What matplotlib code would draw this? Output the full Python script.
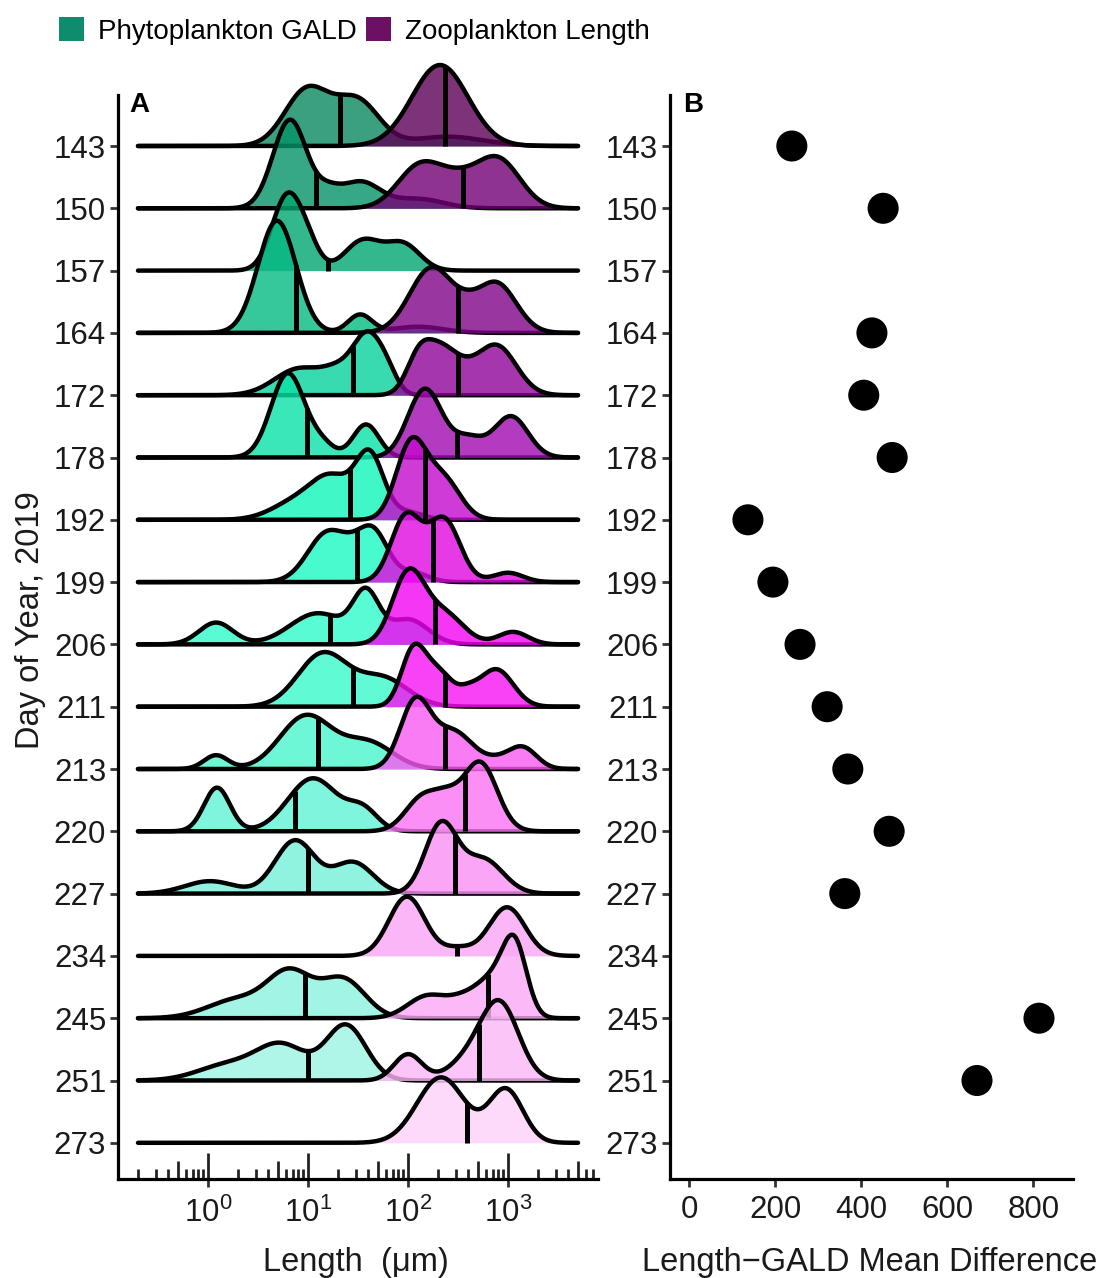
import numpy as np
import matplotlib
matplotlib.use("Agg")
import matplotlib.pyplot as plt
import matplotlib.colors as mcolors
import matplotlib.transforms as mtransforms
from matplotlib.patches import Patch
from matplotlib.ticker import FixedLocator, NullLocator, LogFormatterSciNotation

plt.rcParams['font.family'] = ['Liberation Sans', 'DejaVu Sans']
plt.rcParams['mathtext.fontset'] = 'custom'
plt.rcParams['mathtext.rm'] = 'Liberation Sans'
plt.rcParams['mathtext.it'] = 'Liberation Sans:italic'

days = [143, 150, 157, 164, 172, 178, 192, 199, 206, 211, 213, 220, 227, 234, 245, 251, 273]

# ridge shapes: (log10 length in um, height in rows, width in decades)
phyto_peaks = [
    [(0.99, 0.9, 0.22), (1.49, 0.72, 0.22), (2.4, 0.15, 0.35)],
    [(0.82, 1.42, 0.17), (1.2, 0.2, 0.12), (1.52, 0.42, 0.2), (2.1, 0.15, 0.25)],
    [(0.79, 1.18, 0.15), (1.0, 0.3, 0.12), (1.55, 0.48, 0.18), (1.95, 0.42, 0.17)],
    [(0.69, 1.8, 0.19), (1.52, 0.29, 0.12), (2.1, 0.1, 0.25)],
    [(0.92, 0.43, 0.25), (1.3, 0.28, 0.15), (1.6, 0.95, 0.15), (1.8, 0.2, 0.1)],
    [(0.8, 1.35, 0.17), (1.15, 0.18, 0.12), (1.58, 0.53, 0.13)],
    [(0.9, 0.3, 0.25), (1.25, 0.6, 0.2), (1.62, 1.0, 0.14), (2.0, 0.12, 0.15)],
    [(1.2, 0.8, 0.2), (1.43, 0.12, 0.12), (1.65, 0.8, 0.15), (2.05, 0.15, 0.15)],
    [(0.08, 0.35, 0.17), (1.1, 0.5, 0.28), (1.58, 0.75, 0.13), (2.0, 0.4, 0.2)],
    [(1.15, 0.85, 0.25), (1.75, 0.45, 0.25)],
    [(0.08, 0.22, 0.12), (0.98, 0.85, 0.26), (1.6, 0.42, 0.25)],
    [(0.09, 0.7, 0.13), (1.05, 0.85, 0.25), (1.55, 0.32, 0.15)],
    [(0.02, 0.2, 0.25), (0.87, 0.85, 0.2), (1.45, 0.5, 0.2)],
    [],
    [(0.3, 0.3, 0.3), (0.82, 0.7, 0.22), (1.35, 0.62, 0.22)],
    [(0.2, 0.25, 0.3), (0.74, 0.55, 0.25), (1.38, 0.88, 0.2)],
    [],
]
zoo_peaks = [
    [(2.32, 1.3, 0.28)],
    [(2.12, 0.68, 0.22), (2.5, 0.35, 0.2), (2.9, 0.78, 0.22)],
    [],
    [(2.24, 1.05, 0.22), (2.58, 0.12, 0.12), (2.88, 0.8, 0.2)],
    [(2.1, 0.45, 0.12), (2.33, 0.75, 0.18), (2.6, 0.08, 0.12), (2.88, 0.8, 0.2)],
    [(2.17, 1.1, 0.17), (2.6, 0.3, 0.15), (3.03, 0.66, 0.17)],
    [(2.03, 1.2, 0.15), (2.35, 0.65, 0.17)],
    [(1.98, 1.05, 0.15), (2.36, 1.0, 0.16), (3.0, 0.15, 0.15)],
    [(2.0, 1.1, 0.16), (2.35, 0.5, 0.2), (3.05, 0.2, 0.15)],
    [(2.05, 0.85, 0.12), (2.3, 0.55, 0.15), (2.6, 0.15, 0.1), (2.88, 0.6, 0.17)],
    [(2.07, 1.05, 0.15), (2.45, 0.6, 0.2), (2.9, 0.12, 0.15), (3.15, 0.33, 0.14)],
    [(2.15, 0.55, 0.17), (2.4, 0.35, 0.13), (2.72, 1.1, 0.17)],
    [(2.33, 1.1, 0.16), (2.75, 0.55, 0.2)],
    [(1.99, 0.95, 0.18), (2.5, 0.12, 0.15), (2.99, 0.78, 0.18)],
    [(2.2, 0.36, 0.2), (2.55, 0.22, 0.15), (2.85, 0.6, 0.17), (3.07, 1.05, 0.12)],
    [(2.0, 0.42, 0.14), (2.6, 0.3, 0.2), (2.92, 1.2, 0.19)],
    [(2.33, 1.05, 0.24), (2.98, 0.85, 0.17)],
]

# mean lines (um)
phyto_mean = [20.9, 12.0, 15.8, 7.6, 28.2, 9.8, 26.3, 30.9, 16.6, 28.2, 12.6, 7.4, 10.0, np.nan, 9.3, 10.0, np.nan]
zoo_mean = [234, 355, np.nan, 316, 316, 309, 148, 178, 186, 234, 234, 372, 295, 309, 631, 513, 389]

# panel B
mean_diff = [239, 451, np.nan, 425, 406, 472, 137, 195, 258, 321, 369, 465, 362, np.nan, 813, 669, np.nan]

# fill colours as they look on white
phyto_colors = ['#3aa080', '#35a985', '#33b88d', '#36c79b', '#38dbb0', '#3ae8b8', '#3ff8c8', '#48fcd0',
                '#58fcd4', '#60fbd5', '#6ef8d8', '#80f5dd', '#8ff4e0', '#98f4e2', '#a0f5e5', '#aff5e9', '#c0f6ee']
zoo_colors = ['#7d3378', '#8e3090', '#96339a', '#9a36a0', '#a636ae', '#b33bbf', '#d03bd8', '#e63ae8',
              '#f535f5', '#f742f5', '#fa7cf5', '#fb8ff6', '#fba5f6', '#fbb6f7', '#fbbaf7', '#fcc5f8', '#fdd9fa']

ALPHA = 0.8
W, H = 1107, 1278


def unblend(c, a=ALPHA):
    rgb = np.array(mcolors.to_rgb(c))
    return tuple(np.clip((rgb - (1 - a)) / a, 0, 1))


def ridge(grid, peaks):
    d = np.zeros_like(grid)
    for m, h, s in peaks:
        d += h * np.exp(-(grid - m) ** 2 / (2 * s ** 2))
    return d


n = len(days)
ypos = np.arange(n)[::-1]
ylo, yhi, ytop = -0.581, 17.5, 16.818

fig = plt.figure(figsize=(W / 100, H / 100), dpi=100)
axA = fig.add_axes([118 / W, 1 - 1179 / H, 480 / W, (1179 - 52.55) / H])
axB = fig.add_axes([670 / W, 1 - 1179 / H, 403 / W, (1179 - 52.55) / H])

grid = np.linspace(-0.7, 3.7, 1500)
xs = 10 ** grid
for i in range(n):
    base = ypos[i]
    groups = [(phyto_peaks[i], phyto_colors[i], phyto_mean[i]),
              (zoo_peaks[i], zoo_colors[i], zoo_mean[i])]
    for j, (peaks, col, mu) in enumerate(groups):
        if not peaks:
            continue
        zo = 10 + i * 4 + j * 2
        d = ridge(grid, peaks)
        axA.fill_between(xs, base, base + d, where=d > 0.004, interpolate=True,
                         color=unblend(col), alpha=ALPHA, lw=0, zorder=zo)
        axA.plot(xs, base + d, color='black', lw=3.2, zorder=zo + 1, solid_capstyle='round')
        dm = ridge(np.array([np.log10(mu)]), peaks)[0]
        axA.plot([mu, mu], [base, base + dm], color='black', lw=3.6, zorder=zo + 1,
                 solid_capstyle='butt')

tick_kw = dict(labelsize=22.5, labelcolor='#1a1a1a', width=2, length=5.5, color='#333333')

axA.set_xscale('log')
axA.set_xlim(10 ** -0.9, 10 ** 3.9)
axA.set_ylim(ylo, yhi)
axA.set_yticks(ypos)
axA.set_yticklabels([str(d) for d in days])
axA.xaxis.set_major_locator(FixedLocator([1, 10, 100, 1000]))
axA.xaxis.set_major_formatter(LogFormatterSciNotation())
axA.xaxis.set_minor_locator(NullLocator())
axA.tick_params(axis='y', pad=3, **tick_kw)
axA.tick_params(axis='x', pad=8, **tick_kw)

# log ticks drawn inside the panel
trans = mtransforms.blended_transform_factory(axA.transData, axA.transAxes)
ax_h = 1179 - 52.55
for dec in range(-1, 4):
    for k in range(1, 10):
        v = k * 10.0 ** dec
        if v < 10 ** -0.9 or v > 10 ** 3.9:
            continue
        L = 26 if k == 1 else (18 if k == 5 else 10)
        axA.plot([v, v], [0, L / ax_h], transform=trans, color='#222222', lw=2.0,
                 solid_capstyle='butt', clip_on=False)

axB.scatter(mean_diff, ypos, s=500, color='black', edgecolors='none', zorder=5)
axB.set_xlim(-44, 892)
axB.set_ylim(ylo, yhi)
axB.set_yticks(ypos)
axB.set_yticklabels([str(d) for d in days])
axB.set_xticks([0, 200, 400, 600, 800])
axB.tick_params(axis='y', pad=3, **tick_kw)
axB.tick_params(axis='x', pad=6, **tick_kw)

for ax in (axA, axB):
    for s in ('top', 'right'):
        ax.spines[s].set_visible(False)
    ax.spines['left'].set_bounds(ylo, ytop)
    ax.spines['left'].set_linewidth(2.3)
    ax.spines['bottom'].set_linewidth(2.3)
    ax.patch.set_alpha(0)

fig.text(30 / W, 1 - 620 / H, 'Day of Year, 2019', rotation=90, ha='center', va='center',
         fontsize=23.5, color='#1a1a1a')
fig.text(356 / W, 1 - 1262 / H, 'Length  (\u03bcm)', ha='center', va='center', fontsize=23.5,
         color='#1a1a1a')
fig.text(870 / W, 1 - 1262 / H, 'Length\u2212GALD Mean Difference', ha='center', va='center',
         fontsize=23.5, color='#1a1a1a')
fig.text(139 / W, 1 - 105 / H, 'A', ha='center', va='center', fontsize=20, fontweight='bold')
fig.text(693 / W, 1 - 105 / H, 'B', ha='center', va='center', fontsize=20, fontweight='bold')

handles = [Patch(facecolor='#0f8c6c', edgecolor='none', label='Phytoplankton GALD'),
           Patch(facecolor='#6b1062', edgecolor='none', label='Zooplankton Length')]
fig.legend(handles=handles, loc='center left', bbox_to_anchor=(59 / W, 1 - 31 / H), ncol=2,
           frameon=False, fontsize=20, handlelength=0.9, handleheight=0.97,
           handletextpad=0.5, columnspacing=0.35, borderpad=0, borderaxespad=0)

fig.savefig('out.png', dpi=100)
